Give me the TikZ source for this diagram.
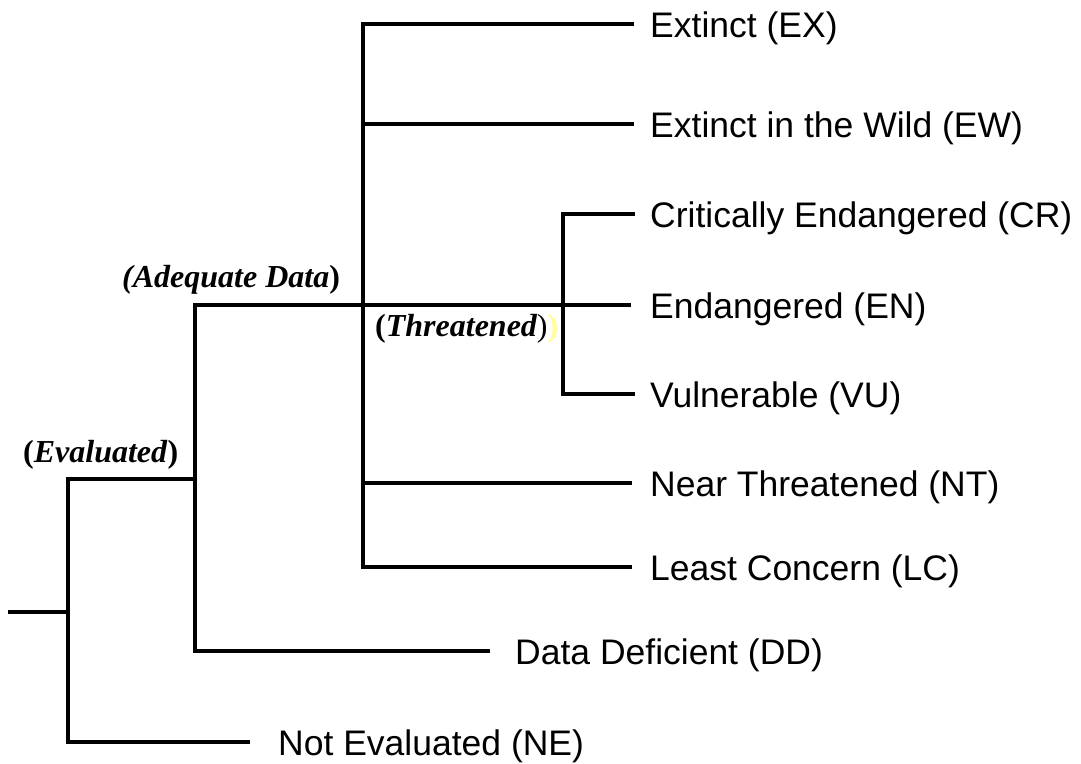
\documentclass[tikz,border=0pt]{standalone}
\usepackage{fontspec}
\setmainfont{Liberation Serif}
\newfontfamily\arialfam{Liberation Sans}
\definecolor{paleyellow}{RGB}{255,255,150}
\tikzset{
  branch/.style={line width=4pt, line join=miter, line cap=rect},
  leaf/.style={anchor=base west, inner sep=0pt, font=\arialfam\fontsize{35.5}{42}\selectfont},
  grp/.style={anchor=base west, inner sep=0pt, font=\fontsize{32}{38}\selectfont}
}
\begin{document}
\begin{tikzpicture}[x=1pt,y=-1pt]
\useasboundingbox (0,0) rectangle (1081,763);
% junction coordinates
\coordinate (root) at (10,612);
\coordinate (evJ) at (68,612);
\coordinate (evTop) at (68,479);
\coordinate (evBot) at (68,742);
\coordinate (adJ) at (195,479);
\coordinate (adTop) at (195,305);
\coordinate (adBot) at (195,651);
\coordinate (bigJ) at (363,305);
\coordinate (bigTop) at (363,24);
\coordinate (bigEW) at (363,124);
\coordinate (bigNT) at (363,483);
\coordinate (bigBot) at (363,567);
\coordinate (thJ) at (563,305);
\coordinate (thTop) at (563,214);
\coordinate (thBot) at (563,394);
% leaf line ends
\coordinate (exE) at (632,24);
\coordinate (ewE) at (632,124);
\coordinate (crE) at (633,214);
\coordinate (enE) at (629,305);
\coordinate (vuE) at (633,394);
\coordinate (ntE) at (630,483);
\coordinate (lcE) at (630,567);
\coordinate (ddE) at (488,651);
\coordinate (neE) at (248,742);
% leaf labels
\node[leaf] (EX) at (650,37) {Extinct (EX)};
\node[leaf] (EW) at (650,137) {Extinct in the Wild (EW)};
\node[leaf] (CR) at (650,227) {Critically Endangered (CR)};
\node[leaf] (EN) at (650,318) {Endangered (EN)};
\node[leaf] (VU) at (650,407) {Vulnerable (VU)};
\node[leaf] (NT) at (650,496) {Near Threatened (NT)};
\node[leaf] (LC) at (650,580) {Least Concern (LC)};
\node[leaf] (DD) at (515,664) {Data Deficient (DD)};
\node[leaf] (NE) at (278,755) {Not Evaluated (NE)};
% group labels
\node[grp] (adLab) at (122,287) {{\bfseries\itshape (Adequate Data}\textbf{)}};
\node[grp] (evLab) at (23,462) {\textbf{(}{\bfseries\itshape Evaluated}\textbf{)}};
\node[grp] (thLab) at (375,336) {\textbf{(}{\bfseries\itshape Threatened})\textcolor{paleyellow}{\textbf{)}}};
% connectors
\draw[branch] (root) -- (evJ);
\draw[branch] (evTop) -- (evBot);
\draw[branch] (evTop) -- (adJ);
\draw[branch] (evBot) -- (neE);
\draw[branch] (adTop) -- (adBot);
\draw[branch] (adBot) -- (ddE);
\draw[branch] (adTop) -- (enE);
\draw[branch] (bigTop) -- (bigBot);
\draw[branch] (bigTop) -- (exE);
\draw[branch] (bigEW) -- (ewE);
\draw[branch] (bigNT) -- (ntE);
\draw[branch] (bigBot) -- (lcE);
\draw[branch] (thTop) -- (thBot);
\draw[branch] (thTop) -- (crE);
\draw[branch] (thBot) -- (vuE);
\end{tikzpicture}
\end{document}
